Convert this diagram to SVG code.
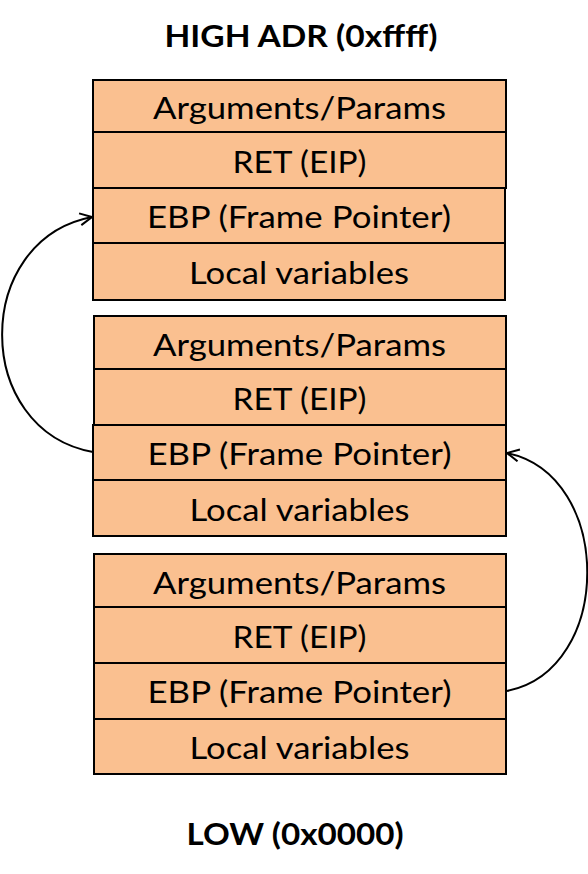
<svg xmlns="http://www.w3.org/2000/svg" width="588" height="874" viewBox="0 0 588 874">
<style>
.cell{fill:#FAC090;stroke:#000;stroke-width:2}
.t{font-family:Lato,"Open Sans","Liberation Sans",sans-serif;font-size:30px;fill:#000;text-anchor:middle}
.h{font-family:Lato,"Open Sans","Liberation Sans",sans-serif;font-size:30px;font-weight:bold;fill:#000;text-anchor:middle}
.c{fill:none;stroke:#000;stroke-width:2}
</style>
<defs>
<marker id="ah" viewBox="0 0 14 14" refX="13" refY="7" markerWidth="14" markerHeight="14" markerUnits="userSpaceOnUse" orient="auto">
<path d="M1,1 L13,7 L1,13" fill="none" stroke="#000" stroke-width="2"/>
</marker>
</defs>
<rect width="588" height="874" fill="#fff"/>
<text id="high" class="h" x="301" y="47" textLength="273" lengthAdjust="spacingAndGlyphs">HIGH ADR (0xffff)</text>
<g id="frame1">
<rect class="cell" x="93" y="80" width="413" height="52"/>
<rect class="cell" x="93" y="132" width="413" height="56"/>
<rect class="cell" x="93" y="188" width="412" height="55"/>
<rect class="cell" x="93" y="243" width="412" height="57"/>
<text class="t" x="299.5" y="119" textLength="293" lengthAdjust="spacingAndGlyphs">Arguments/Params</text>
<text class="t" x="299.5" y="173" textLength="134" lengthAdjust="spacingAndGlyphs">RET (EIP)</text>
<text class="t" x="299" y="228" textLength="304" lengthAdjust="spacingAndGlyphs">EBP (Frame Pointer)</text>
<text class="t" x="299" y="284" textLength="220" lengthAdjust="spacingAndGlyphs">Local variables</text>
</g>
<g id="frame2">
<rect class="cell" x="94" y="316" width="412" height="53"/>
<rect class="cell" x="94" y="369" width="412" height="56"/>
<rect class="cell" x="93" y="425" width="413" height="55"/>
<rect class="cell" x="93" y="480" width="413" height="56"/>
<text class="t" x="299.5" y="356" textLength="293" lengthAdjust="spacingAndGlyphs">Arguments/Params</text>
<text class="t" x="299.5" y="410" textLength="134" lengthAdjust="spacingAndGlyphs">RET (EIP)</text>
<text class="t" x="299.5" y="465" textLength="304" lengthAdjust="spacingAndGlyphs">EBP (Frame Pointer)</text>
<text class="t" x="299.5" y="521" textLength="220" lengthAdjust="spacingAndGlyphs">Local variables</text>
</g>
<g id="frame3">
<rect class="cell" x="94" y="554" width="412" height="53"/>
<rect class="cell" x="94" y="607" width="412" height="56"/>
<rect class="cell" x="94" y="663" width="412" height="56"/>
<rect class="cell" x="94" y="719" width="412" height="55"/>
<text class="t" x="299.5" y="594" textLength="293" lengthAdjust="spacingAndGlyphs">Arguments/Params</text>
<text class="t" x="299.5" y="648" textLength="134" lengthAdjust="spacingAndGlyphs">RET (EIP)</text>
<text class="t" x="299.5" y="703" textLength="304" lengthAdjust="spacingAndGlyphs">EBP (Frame Pointer)</text>
<text class="t" x="299.5" y="759" textLength="220" lengthAdjust="spacingAndGlyphs">Local variables</text>
</g>
<text id="low" class="h" x="295" y="845" textLength="217" lengthAdjust="spacingAndGlyphs">LOW (0x0000)</text>
<g id="connectors">
<path class="c" d="M93,452 C-28,430 -28,240 92,217" marker-end="url(#ah)"/>
<path class="c" d="M507,691 C614,670 614,475 507,453" marker-end="url(#ah)"/>
</g>
</svg>
